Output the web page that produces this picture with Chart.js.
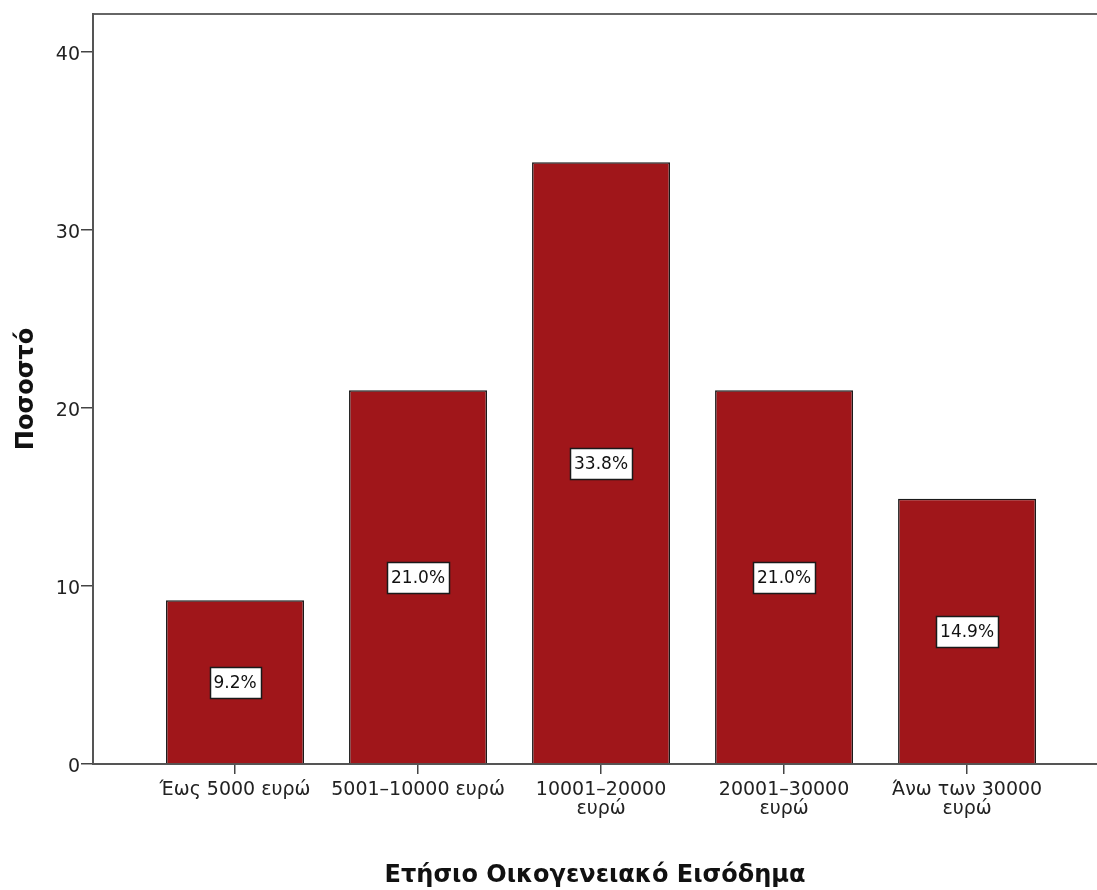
<!DOCTYPE html>
<html>
<head>
<meta charset="utf-8">
<script src="https://cdn.jsdelivr.net/npm/chart.js@4/dist/chart.umd.min.js"></script>
<style>
  html, body { margin: 0; padding: 0; background: #fff; }
  #wrap { width: 1097px; height: 890px; }
</style>
</head>
<body>
<div id="wrap"><canvas id="incomeChart" width="1097" height="890"></canvas></div>
<script>
// Ετήσιο Οικογενειακό Εισόδημα - ποσοστά
const categories = [
  ['Έως 5000 ευρώ'],
  ['5001–10000 ευρώ'],
  ['10001–20000', 'ευρώ'],
  ['20001–30000', 'ευρώ'],
  ['Άνω των 30000', 'ευρώ']
];
const percentValues = [9.2, 21.0, 33.8, 21.0, 14.9];
const yTicks = [0, 10, 20, 30, 40];
const positions = [1, 2, 3, 4, 5];

const fontFam = '"DejaVu Sans", sans-serif';

// ετικέτες μέσα στις μπάρες (λευκό κουτί)
const valueLabels = {
  id: 'valueLabels',
  afterDatasetsDraw(chart) {
    const ctx = chart.ctx;
    const yScale = chart.scales.y;
    const meta = chart.getDatasetMeta(0);
    ctx.save();
    ctx.font = '17px ' + fontFam;
    ctx.textAlign = 'center';
    ctx.textBaseline = 'middle';
    meta.data.forEach((bar, i) => {
      const txt = percentValues[i].toFixed(1) + '%';
      const y = yScale.getPixelForValue(percentValues[i] / 2);
      const w = Math.round(ctx.measureText(txt).width + 8);
      const h = 31;
      const bx = Math.round(bar.x - w / 2) + 0.5;
      const by = Math.round(y - h / 2) + 0.5;
      ctx.fillStyle = '#fff';
      ctx.fillRect(bx, by, w, h);
      ctx.strokeStyle = '#1a1a1a';
      ctx.lineWidth = 1.5;
      ctx.strokeRect(bx, by, w, h);
      ctx.fillStyle = '#111';
      ctx.fillText(txt, bar.x, y + 1);
    });
    ctx.restore();
  }
};

const ctx = document.getElementById('incomeChart').getContext('2d');
new Chart(ctx, {
  type: 'bar',
  data: {
    datasets: [{
      data: positions.map((p, i) => ({ x: p, y: percentValues[i] })),
      backgroundColor: '#A0161A',
      borderColor: '#1a1a1a',
      borderWidth: 1.5,
      barPercentage: 0.754,
      categoryPercentage: 1
    }]
  },
  options: {
    responsive: false,
    animation: false,
    layout: { padding: 0 },
    plugins: {
      legend: { display: false },
      tooltip: { enabled: false }
    },
    scales: {
      x: {
        type: 'linear',
        position: 'bottom',
        offset: false,
        min: 0.224,
        max: 5.71,
        afterBuildTicks: (scale) => { scale.ticks = positions.map(v => ({ value: v })); },
        afterFit: (scale) => { scale.height = 126; },
        grid: { offset: false, drawOnChartArea: false, drawTicks: true, tickLength: 10, color: '#444', lineWidth: 1.5 },
        border: { display: true, color: '#555', width: 2 },
        ticks: {
          autoSkip: false,
          maxRotation: 0,
          padding: 7,
          color: '#222',
          font: { family: fontFam, size: 19, lineHeight: 1.0 },
          callback: (v) => categories[v - 1]
        },
        title: {
          display: true,
          text: 'Ετήσιο Οικογενειακό Εισόδημα',
          color: '#111',
          font: { family: fontFam, size: 24, weight: 'bold' },
          padding: { top: 0, bottom: 0 }
        }
      },
      xTop: {
        type: 'linear',
        position: 'top',
        min: 0, max: 1,
        afterFit: (scale) => { scale.height = 14; },
        grid: { display: true, drawOnChartArea: false, drawTicks: false },
        border: { display: true, color: '#666', width: 2 },
        ticks: { display: false }
      },
      y: {
        min: 0,
        max: 42.13,
        afterBuildTicks: (scale) => { scale.ticks = yTicks.map(v => ({ value: v })); },
        afterFit: (scale) => { scale.width = 93; },
        grid: { drawOnChartArea: false, drawTicks: true, tickLength: 12, color: '#444', lineWidth: 1.5 },
        border: { display: true, color: '#555', width: 2 },
        ticks: {
          padding: 1,
          labelOffset: 3,
          color: '#222',
          font: { family: fontFam, size: 19 }
        },
        title: {
          display: true,
          text: 'Ποσοστό',
          color: '#111',
          font: { family: fontFam, size: 24, weight: 'bold' },
          padding: { top: 12, bottom: 0 }
        }
      }
    }
  },
  plugins: [valueLabels]
});
</script>
</body>
</html>
